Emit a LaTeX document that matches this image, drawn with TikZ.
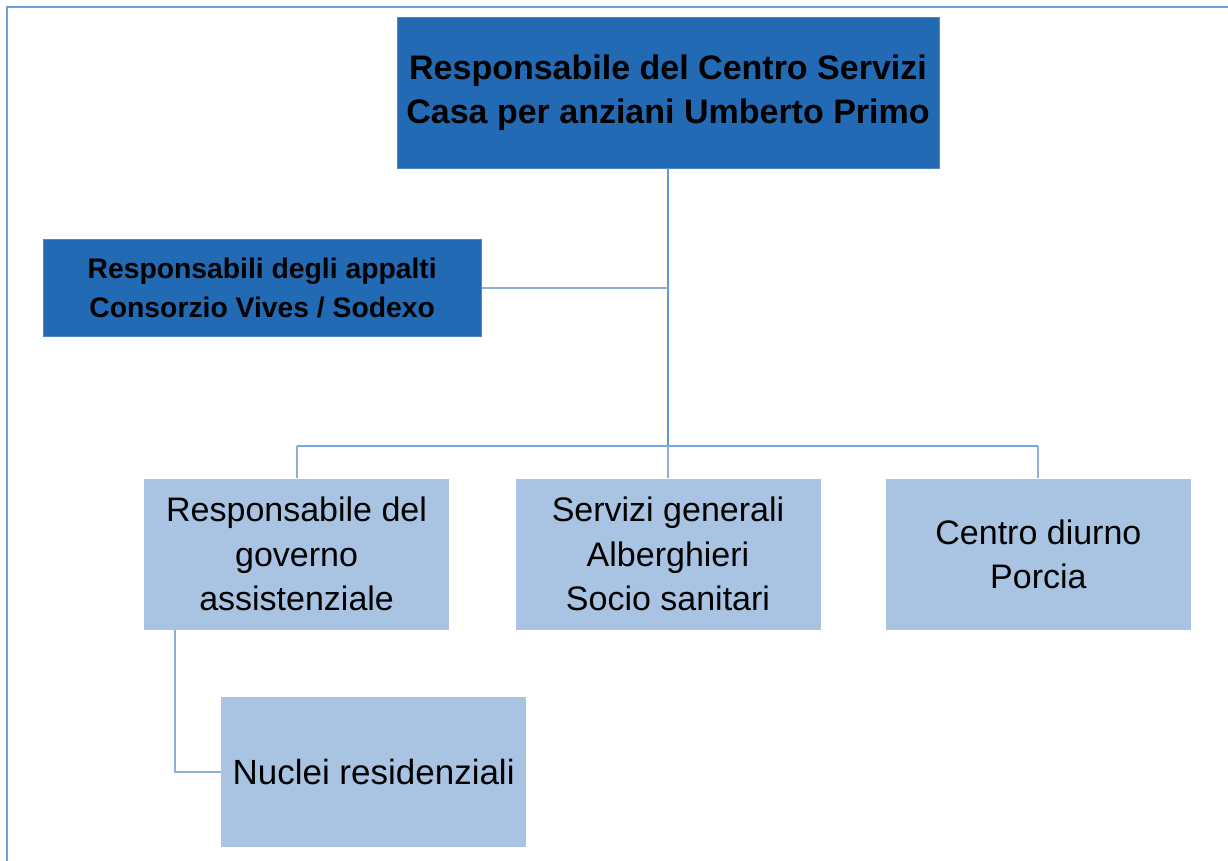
\documentclass[tikz,border=0pt]{standalone}
\usepackage{fontspec}
\setmainfont{Liberation Sans}
\usepackage{xcolor}
\usepackage{tikz}
\usetikzlibrary{positioning}
\definecolor{headblue}{HTML}{236AB5}
\definecolor{unitblue}{HTML}{A8C4E2}
\definecolor{trunkblue}{HTML}{5F98D6}
\definecolor{linkblue}{HTML}{8FAFD6}
\tikzset{x=1pt, y=-1pt, inner sep=0pt, align=center,
	head/.style={fill=headblue, draw=headblue!80!white, line width=0.8pt, font=\bfseries},
	unit/.style={fill=unitblue, minimum width=305pt, minimum height=151pt, font=\fontsize{34}{44.5}\selectfont},
	trunk/.style={draw=trunkblue, line width=2.6pt},
	link/.style={draw=linkblue, line width=2pt},
	frame/.style={draw=trunkblue!90!white, line width=2pt}}

\begin{document}
\begin{tikzpicture}
	\useasboundingbox (0,0) rectangle (1228,861);
	\draw[frame] (7,861) |- (1228,7);
	\node[head, minimum width=542pt, minimum height=151pt, font=\bfseries\fontsize{34}{44}\selectfont] (Top) at (668,92.5) {Responsabile del Centro Servizi\\Casa per anziani Umberto Primo};
	\node[head, minimum width=438pt, minimum height=97pt, font=\bfseries\fontsize{28.3}{39}\selectfont, below left=71pt and -85pt of Top] (Appalti) {Responsabili degli appalti\\Consorzio Vives / Sodexo};
	\node[unit, below=310pt of Top] (Servizi) {Servizi generali\\Alberghieri\\Socio sanitari};
	\node[unit, left=66pt of Servizi] (Govern) {Responsabile del\\governo\\assistenziale};
	\node[unit, right=65pt of Servizi] (Centro) {Centro diurno\\Porcia};
	\node[unit, below=67pt of Govern, xshift=77pt, minimum height=150pt, font=\fontsize{35}{44}\selectfont] (Nuclei) {Nuclei residenziali};
	\path (Top.south) ++(0,277.5) coordinate (Bus);
	\draw[trunk] (Top.south) -- (Bus);
	\draw[link] (Appalti.east) -- (Appalti.east -| Top.south);
	\draw[trunk, line width=2.2pt, draw=trunkblue!85!white] (Govern.north |- Bus) -- (Centro.north |- Bus);
	\foreach \n in {Govern, Servizi, Centro}
		\draw[link] (\n.north |- Bus) -- (\n.north);
	\draw[link] ([xshift=31pt]Govern.south west) |- (Nuclei.west);
\end{tikzpicture}
\end{document}
